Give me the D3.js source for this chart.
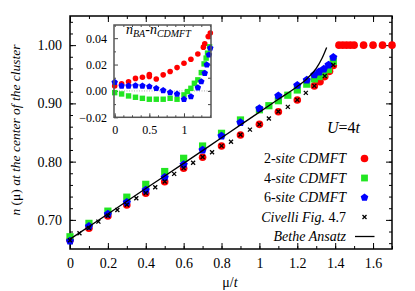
<!DOCTYPE html>
<html>
<head>
<meta charset="utf-8">
<script src="https://cdn.jsdelivr.net/npm/d3@7"></script>
<style>
body { margin: 0; background: #fff; }
svg text { font-family: "Liberation Serif", "Times New Roman", "DejaVu Serif", serif !important; }
</style>
</head>
<body>
<div id="chart"></div>
<script>
// main panel: n(mu) at the center of the cluster
var mu2 = [0, 0.1, 0.2, 0.3, 0.4, 0.5, 0.6, 0.7, 0.8, 0.9, 1.0, 1.1, 1.2, 1.29, 1.32, 1.345, 1.37, 1.39,
  1.42, 1.44, 1.46, 1.48, 1.5, 1.55, 1.6, 1.65, 1.7]
var n2 = [0.6655, 0.6855, 0.7067, 0.7255, 0.7456, 0.7656, 0.7885, 0.8074, 0.8268, 0.8457, 0.864, 0.8857, 0.9058,
  0.930, 0.937, 0.946, 0.955, 0.965, 1, 1, 1, 1, 1, 1, 1, 1, 1]

var mu4 = [0, 0.1, 0.2, 0.3, 0.4, 0.5, 0.6, 0.7, 0.8, 0.9, 1.0, 1.05, 1.1, 1.15, 1.2, 1.25, 1.29, 1.315, 1.34, 1.365, 1.39]
var n4 = [0.671, 0.694, 0.715, 0.739, 0.761, 0.783, 0.8057, 0.8268, 0.8486, 0.8715, 0.889, 0.896, 0.9046, 0.914,
  0.923, 0.933, 0.942, 0.946, 0.951, 0.958, 0.972]

var mu6 = [0, 0.1, 0.2, 0.3, 0.4, 0.5, 0.6, 0.7, 0.8, 0.9, 1.0, 1.1, 1.2, 1.25, 1.29, 1.315, 1.34, 1.365, 1.39]
var n6 = [0.6637, 0.689, 0.710, 0.730, 0.751, 0.773, 0.795, 0.820, 0.844, 0.867, 0.891, 0.913, 0.931, 0.940,
  0.949, 0.954, 0.959, 0.966, 0.979]

var muCiv = [0, 0.05, 0.1, 0.15, 0.2, 0.25, 0.3, 0.35, 0.4, 0.45, 0.5, 0.55, 0.6, 0.65, 0.7, 0.75, 0.8, 0.85,
  0.9, 0.95, 1.0, 1.05, 1.1, 1.15, 1.2, 1.245, 1.29, 1.345, 1.39]
var nCiv = [0.665, 0.677, 0.686, 0.697, 0.707, 0.717, 0.726, 0.737, 0.746, 0.756, 0.766, 0.779, 0.789, 0.798,
  0.808, 0.816, 0.827, 0.834, 0.846, 0.855, 0.864, 0.874, 0.886, 0.894, 0.906, 0.918, 0.930, 0.947, 0.966]

var muBA = [0, 0.2, 0.4, 0.6, 0.8, 1.0, 1.1, 1.2, 1.25, 1.3, 1.33, 1.355]
var nBA = [0.667, 0.710, 0.754, 0.797, 0.841, 0.885, 0.907, 0.929, 0.942, 0.960, 0.977, 0.996]

// inset: n_BA - n_CDMFT
var imu2 = [0, 0.1, 0.2, 0.3, 0.4, 0.5, 0.5, 0.6, 0.7, 0.8, 0.9, 1.0, 1.1, 1.2, 1.28, 1.3, 1.35, 1.38]
var id2 = [0.0038, 0.0055, 0.007, 0.0095, 0.0104, 0.0110, 0.0125, 0.0091, 0.0122, 0.0147, 0.0177, 0.021,
  0.024, 0.028, 0.0332, 0.0357, 0.0413, 0.0439]
var imu4 = [0, 0.1, 0.2, 0.3, 0.4, 0.5, 0.6, 0.7, 0.8, 0.9, 1.0, 1.05, 1.1, 1.15, 1.2, 1.25, 1.29, 1.32, 1.34, 1.37]
var id4 = [-0.0013, -0.0023, -0.0038, -0.0048, -0.0056, -0.0063, -0.0063, -0.0063, -0.0056, -0.0063, -0.003,
  -0.0005, 0.002, 0.0058, 0.0084, 0.0139, 0.0205, 0.0249, 0.0287, 0.0335]
var imu6 = [0, 0.1, 0.2, 0.3, 0.4, 0.5, 0.6, 0.7, 0.8, 0.9, 1.0, 1.1, 1.2, 1.25, 1.3, 1.33, 1.36, 1.38]
var id6 = [0.0066, 0.0038, 0.0038, 0.004, 0.0038, 0.0033, 0.002, 0.0004, -0.0012, -0.0023, -0.0063, -0.0043,
  0.0025, 0.0071, 0.0135, 0.0198, 0.0274, 0.0325]

var xTicks = [0, 0.2, 0.4, 0.6, 0.8, 1, 1.2, 1.4, 1.6]
var yTicks = [0.70, 0.80, 0.90, 1.00]
var ixTicks = [0, 0.5, 1]
var iyTicks = [-0.02, 0, 0.02, 0.04]

var RED = '#ff0000', GREEN = '#22e622', BLUE = '#0000ff'
var SERIF = '"Liberation Serif", "Times New Roman", serif'

var svg = d3.select('#chart').append('svg')
  .attr('width', 415)
  .attr('height', 291)
  .attr('font-family', SERIF)

var x = d3.scaleLinear().domain([0, 1.7]).range([70, 392])
var y = d3.scaleLinear().domain([0.65, 1.05]).range([249, 16])

function zip(a, b) { return a.map((v, i) => [v, b[i]]) }

function pentagon(r) {
  var pts = d3.range(5).map(function(k) {
    var a = -Math.PI / 2 + k * 2 * Math.PI / 5
    return [r * Math.cos(a), r * Math.sin(a)]
  })
  return 'M' + pts.map(p => p[0].toFixed(2) + ',' + p[1].toFixed(2)).join('L') + 'Z'
}
function crossPath(s) {
  return 'M' + -s + ',' + -s + 'L' + s + ',' + s + 'M' + -s + ',' + s + 'L' + s + ',' + -s
}

/** main axes, ticks drawn inward on all four sides */
function minorAxis(axis, vals, size) {
  return axis.tickValues(vals).tickSize(size).tickFormat('')
}
var g = svg.append('g')
var xMinor = d3.range(0, 1.71, 0.1)
var yMinor = d3.range(0.66, 1.05, 0.02)

g.append('g').attr('transform', 'translate(0,249)')
  .call(minorAxis(d3.axisBottom(x), xMinor, -3))
g.append('g').attr('transform', 'translate(0,249)')
  .call(d3.axisBottom(x).tickValues(xTicks).tickSize(-6).tickPadding(9).tickFormat(d3.format('')))
g.append('g').attr('transform', 'translate(0,16)')
  .call(minorAxis(d3.axisTop(x), xMinor, -3))
g.append('g').attr('transform', 'translate(0,16)')
  .call(minorAxis(d3.axisTop(x), xTicks, -6))
g.append('g').attr('transform', 'translate(70,0)')
  .call(minorAxis(d3.axisLeft(y), yMinor, -3))
g.append('g').attr('transform', 'translate(70,0)')
  .call(d3.axisLeft(y).tickValues(yTicks).tickSize(-6).tickPadding(8).tickFormat(d3.format('.2f')))
g.append('g').attr('transform', 'translate(392,0)')
  .call(minorAxis(d3.axisRight(y), yMinor, -3))
g.append('g').attr('transform', 'translate(392,0)')
  .call(minorAxis(d3.axisRight(y), yTicks, -6))

g.selectAll('g').attr('font-family', SERIF)
g.selectAll('.domain').remove()
g.selectAll('.tick line').attr('stroke', '#000').attr('stroke-width', 1)
g.selectAll('.tick text').attr('font-size', 14).attr('fill', '#000')

g.append('rect')
  .attr('x', 70).attr('y', 16).attr('width', 322).attr('height', 233)
  .attr('fill', 'none').attr('stroke', '#000').attr('stroke-width', 1.5)

/** data marks */
var plot = svg.append('g')

plot.selectAll('.red').data(zip(mu2, n2)).enter().append('circle')
  .attr('class', 'red')
  .attr('cx', d => x(d[0])).attr('cy', d => y(d[1])).attr('r', 3.8)
  .attr('fill', RED)

plot.selectAll('.green').data(zip(mu4, n4)).enter().append('rect')
  .attr('class', 'green')
  .attr('x', d => x(d[0]) - 3.6).attr('y', d => y(d[1]) - 3.6)
  .attr('width', 7.2).attr('height', 7.2)
  .attr('fill', GREEN)

plot.selectAll('.blue').data(zip(mu6, n6)).enter().append('path')
  .attr('class', 'blue')
  .attr('transform', d => 'translate(' + x(d[0]) + ',' + y(d[1]) + ')')
  .attr('d', pentagon(4.3))
  .attr('fill', BLUE)

plot.selectAll('.civ').data(zip(muCiv, nCiv)).enter().append('path')
  .attr('class', 'civ')
  .attr('transform', d => 'translate(' + x(d[0]) + ',' + y(d[1]) + ')')
  .attr('d', crossPath(2))
  .attr('stroke', '#000').attr('stroke-width', 1.3).attr('fill', 'none')

var line = d3.line()
  .x(d => x(d[0])).y(d => y(d[1]))
  .curve(d3.curveMonotoneX)
plot.append('path')
  .datum(zip(muBA, nBA))
  .attr('d', line)
  .attr('fill', 'none').attr('stroke', '#000').attr('stroke-width', 1.3)

/** inset */
var ix = d3.scaleLinear().domain([-0.01, 1.39]).range([114, 211])
var iy = d3.scaleLinear().domain([-0.02, 0.05]).range([117.3, 25])
var ins = svg.append('g')

ins.append('rect')
  .attr('x', 114).attr('y', 25).attr('width', 97).attr('height', 92.3)
  .attr('fill', '#fff')

ins.append('line')
  .attr('x1', 114).attr('x2', 211).attr('y1', iy(0)).attr('y2', iy(0))
  .attr('stroke', '#999').attr('stroke-width', 0.8).attr('stroke-dasharray', '1,1.5')

var ia = ins.append('g')
ia.append('g').attr('transform', 'translate(0,117.3)')
  .call(minorAxis(d3.axisBottom(ix), d3.range(0, 1.39, 0.125), -2))
ia.append('g').attr('transform', 'translate(0,117.3)')
  .call(d3.axisBottom(ix).tickValues(ixTicks).tickSize(-4).tickPadding(8).tickFormat(d3.format('')))
ia.append('g').attr('transform', 'translate(0,25)')
  .call(minorAxis(d3.axisTop(ix), d3.range(0, 1.39, 0.125), -2))
ia.append('g').attr('transform', 'translate(114,0)')
  .call(minorAxis(d3.axisLeft(iy), d3.range(-0.01, 0.05, 0.02), -2))
ia.append('g').attr('transform', 'translate(114,0)')
  .call(d3.axisLeft(iy).tickValues(iyTicks).tickSize(-4).tickPadding(7).tickFormat(d3.format('.2f')))
ia.append('g').attr('transform', 'translate(211,0)')
  .call(minorAxis(d3.axisRight(iy), d3.range(-0.01, 0.05, 0.01), -3))

ia.selectAll('g').attr('font-family', SERIF)
ia.selectAll('.domain').remove()
ia.selectAll('.tick line').attr('stroke', '#444')
ia.selectAll('.tick text').attr('font-size', 12).attr('fill', '#000')

ins.selectAll('.ired').data(zip(imu2, id2)).enter().append('circle')
  .attr('cx', d => ix(d[0])).attr('cy', d => iy(d[1])).attr('r', 2.8)
  .attr('fill', RED)
ins.selectAll('.igreen').data(zip(imu4, id4)).enter().append('rect')
  .attr('x', d => ix(d[0]) - 2.7).attr('y', d => iy(d[1]) - 2.7)
  .attr('width', 5.4).attr('height', 5.4)
  .attr('fill', GREEN)
ins.selectAll('.iblue').data(zip(imu6, id6)).enter().append('path')
  .attr('transform', d => 'translate(' + ix(d[0]) + ',' + iy(d[1]) + ')')
  .attr('d', pentagon(3.4))
  .attr('fill', BLUE)

ins.append('rect')
  .attr('x', 114).attr('y', 25).attr('width', 97).attr('height', 92.3)
  .attr('fill', 'none').attr('stroke', '#555').attr('stroke-width', 1.5)

var title = ins.append('text')
  .attr('x', 126).attr('y', 34)
  .attr('font-size', 14).attr('font-style', 'italic')
title.append('tspan').text('n')
title.append('tspan').attr('font-size', 10).attr('dy', 3).text('BA')
title.append('tspan').attr('dy', -3).attr('font-style', 'normal').text('-')
title.append('tspan').text('n')
title.append('tspan').attr('font-size', 10).attr('dy', 3).text('CDMFT')

/** labels */
var ut = svg.append('text')
  .attr('x', 327).attr('y', 133)
  .attr('font-size', 16)
ut.append('tspan').attr('font-style', 'italic').text('U')
ut.append('tspan').text('=4')
ut.append('tspan').attr('font-style', 'italic').text('t')

var xl = svg.append('text')
  .attr('x', 230).attr('y', 287).attr('text-anchor', 'middle')
  .attr('font-size', 14)
xl.append('tspan').text('\u03bc/')
xl.append('tspan').attr('font-style', 'italic').text('t')

var yl = svg.append('text')
  .attr('transform', 'translate(20,130) rotate(-90)')
  .attr('text-anchor', 'middle')
  .attr('font-size', 13.5).attr('font-style', 'italic')
yl.append('tspan').text('n ')
yl.append('tspan').attr('font-style', 'normal').text('(\u03bc)')
yl.append('tspan').text(' at the center of the cluster')

/** legend */
var legend = [
  { num: '2', label: '-site CDMFT', kind: 'circle' },
  { num: '4', label: '-site CDMFT', kind: 'square' },
  { num: '6', label: '-site CDMFT', kind: 'pentagon' },
  { num: '', label: 'Civelli Fig. ', tail: '4.7', kind: 'cross' },
  { num: '', label: 'Bethe Ansatz', kind: 'line' }
]
var lg = svg.append('g')
legend.forEach(function(d, i) {
  var yy = 158.5 + i * 19.5
  var t = lg.append('text')
    .attr('x', 346).attr('y', yy + 4.5).attr('text-anchor', 'end')
    .attr('font-size', 14)
  if (d.num) t.append('tspan').text(d.num)
  t.append('tspan').attr('font-style', 'italic').text(d.label)
  if (d.tail) t.append('tspan').text(d.tail)
  var sx = 364.5
  if (d.kind === 'circle') {
    lg.append('circle').attr('cx', sx).attr('cy', yy).attr('r', 3.8).attr('fill', RED)
  } else if (d.kind === 'square') {
    lg.append('rect').attr('x', sx - 3.4).attr('y', yy - 3.4).attr('width', 6.8).attr('height', 6.8).attr('fill', GREEN)
  } else if (d.kind === 'pentagon') {
    lg.append('path').attr('transform', 'translate(' + sx + ',' + yy + ')').attr('d', pentagon(4)).attr('fill', BLUE)
  } else if (d.kind === 'cross') {
    lg.append('path').attr('transform', 'translate(' + sx + ',' + yy + ')').attr('d', crossPath(2))
      .attr('stroke', '#000').attr('stroke-width', 1.3)
  } else {
    lg.append('line').attr('x1', 355).attr('x2', 374.5).attr('y1', yy).attr('y2', yy)
      .attr('stroke', '#000').attr('stroke-width', 1.3)
  }
})
</script>
</body>
</html>
